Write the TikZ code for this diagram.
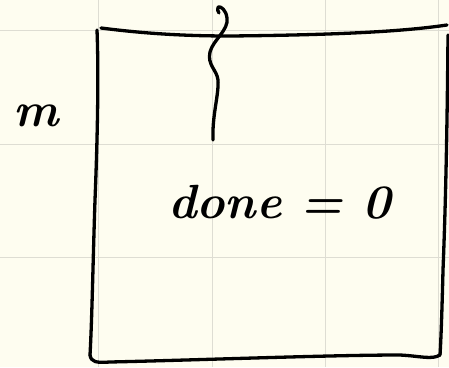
\documentclass[tikz,border=0pt]{standalone}
\begin{document}
\begin{tikzpicture}[x=1pt,y=-1pt,
  ink/.style={line width=3.3pt,line cap=round,line join=round,black},
  gridline/.style={line width=0.9pt,color=gridgray},
  hand/.style={font=\fontsize{48}{56}\selectfont\bfseries\itshape,inner sep=0pt}]
\definecolor{paper}{HTML}{FEFDF0}
\definecolor{gridgray}{HTML}{DEDDD3}
\fill[paper] (0,0) rectangle (449,367);
\useasboundingbox (0,0) rectangle (449,367);
% grid
\foreach \gx in {98,212,325,438} \draw[gridline] (\gx,0) -- (\gx,367);
\foreach \gy in {30,144,257} \draw[gridline] (0,\gy) -- (449,\gy);
% box
\draw[ink] (101,28) .. controls (140,33) and (180,36) .. (230,36)
  .. controls (330,35) and (400,32) .. (447,25);
\draw[ink] (97,30) .. controls (99,80) and (97,150) .. (95,200)
  .. controls (93,260) and (92,320) .. (90,355);
\draw[ink] (90,355) .. controls (91,362) and (96,363) .. (110,362)
  .. controls (200,360) and (330,355) .. (400,355)
  .. controls (420,356) and (432,360) .. (440,355);
\draw[ink] (448,35) .. controls (447,150) and (445,220) .. (443,270)
  .. controls (442,310) and (441,340) .. (440,355);
% wavy line
\draw[ink] (213,140) .. controls (212,115) and (219,95) .. (218,80)
  .. controls (217,70) and (207,65) .. (210,52)
  .. controls (213,40) and (229,30) .. (227,18)
  .. controls (226,10) and (221,6) .. (218,7)
  .. controls (217,9) and (218,12) .. (219,13);
% texts
\node[hand,anchor=base west] (m) at (13,126) {m};
\node[hand,anchor=base west] (done) at (168,218) {done};
\node[hand,anchor=base west] (eq) at (300,218) {=\ 0};
\end{tikzpicture}
\end{document}
